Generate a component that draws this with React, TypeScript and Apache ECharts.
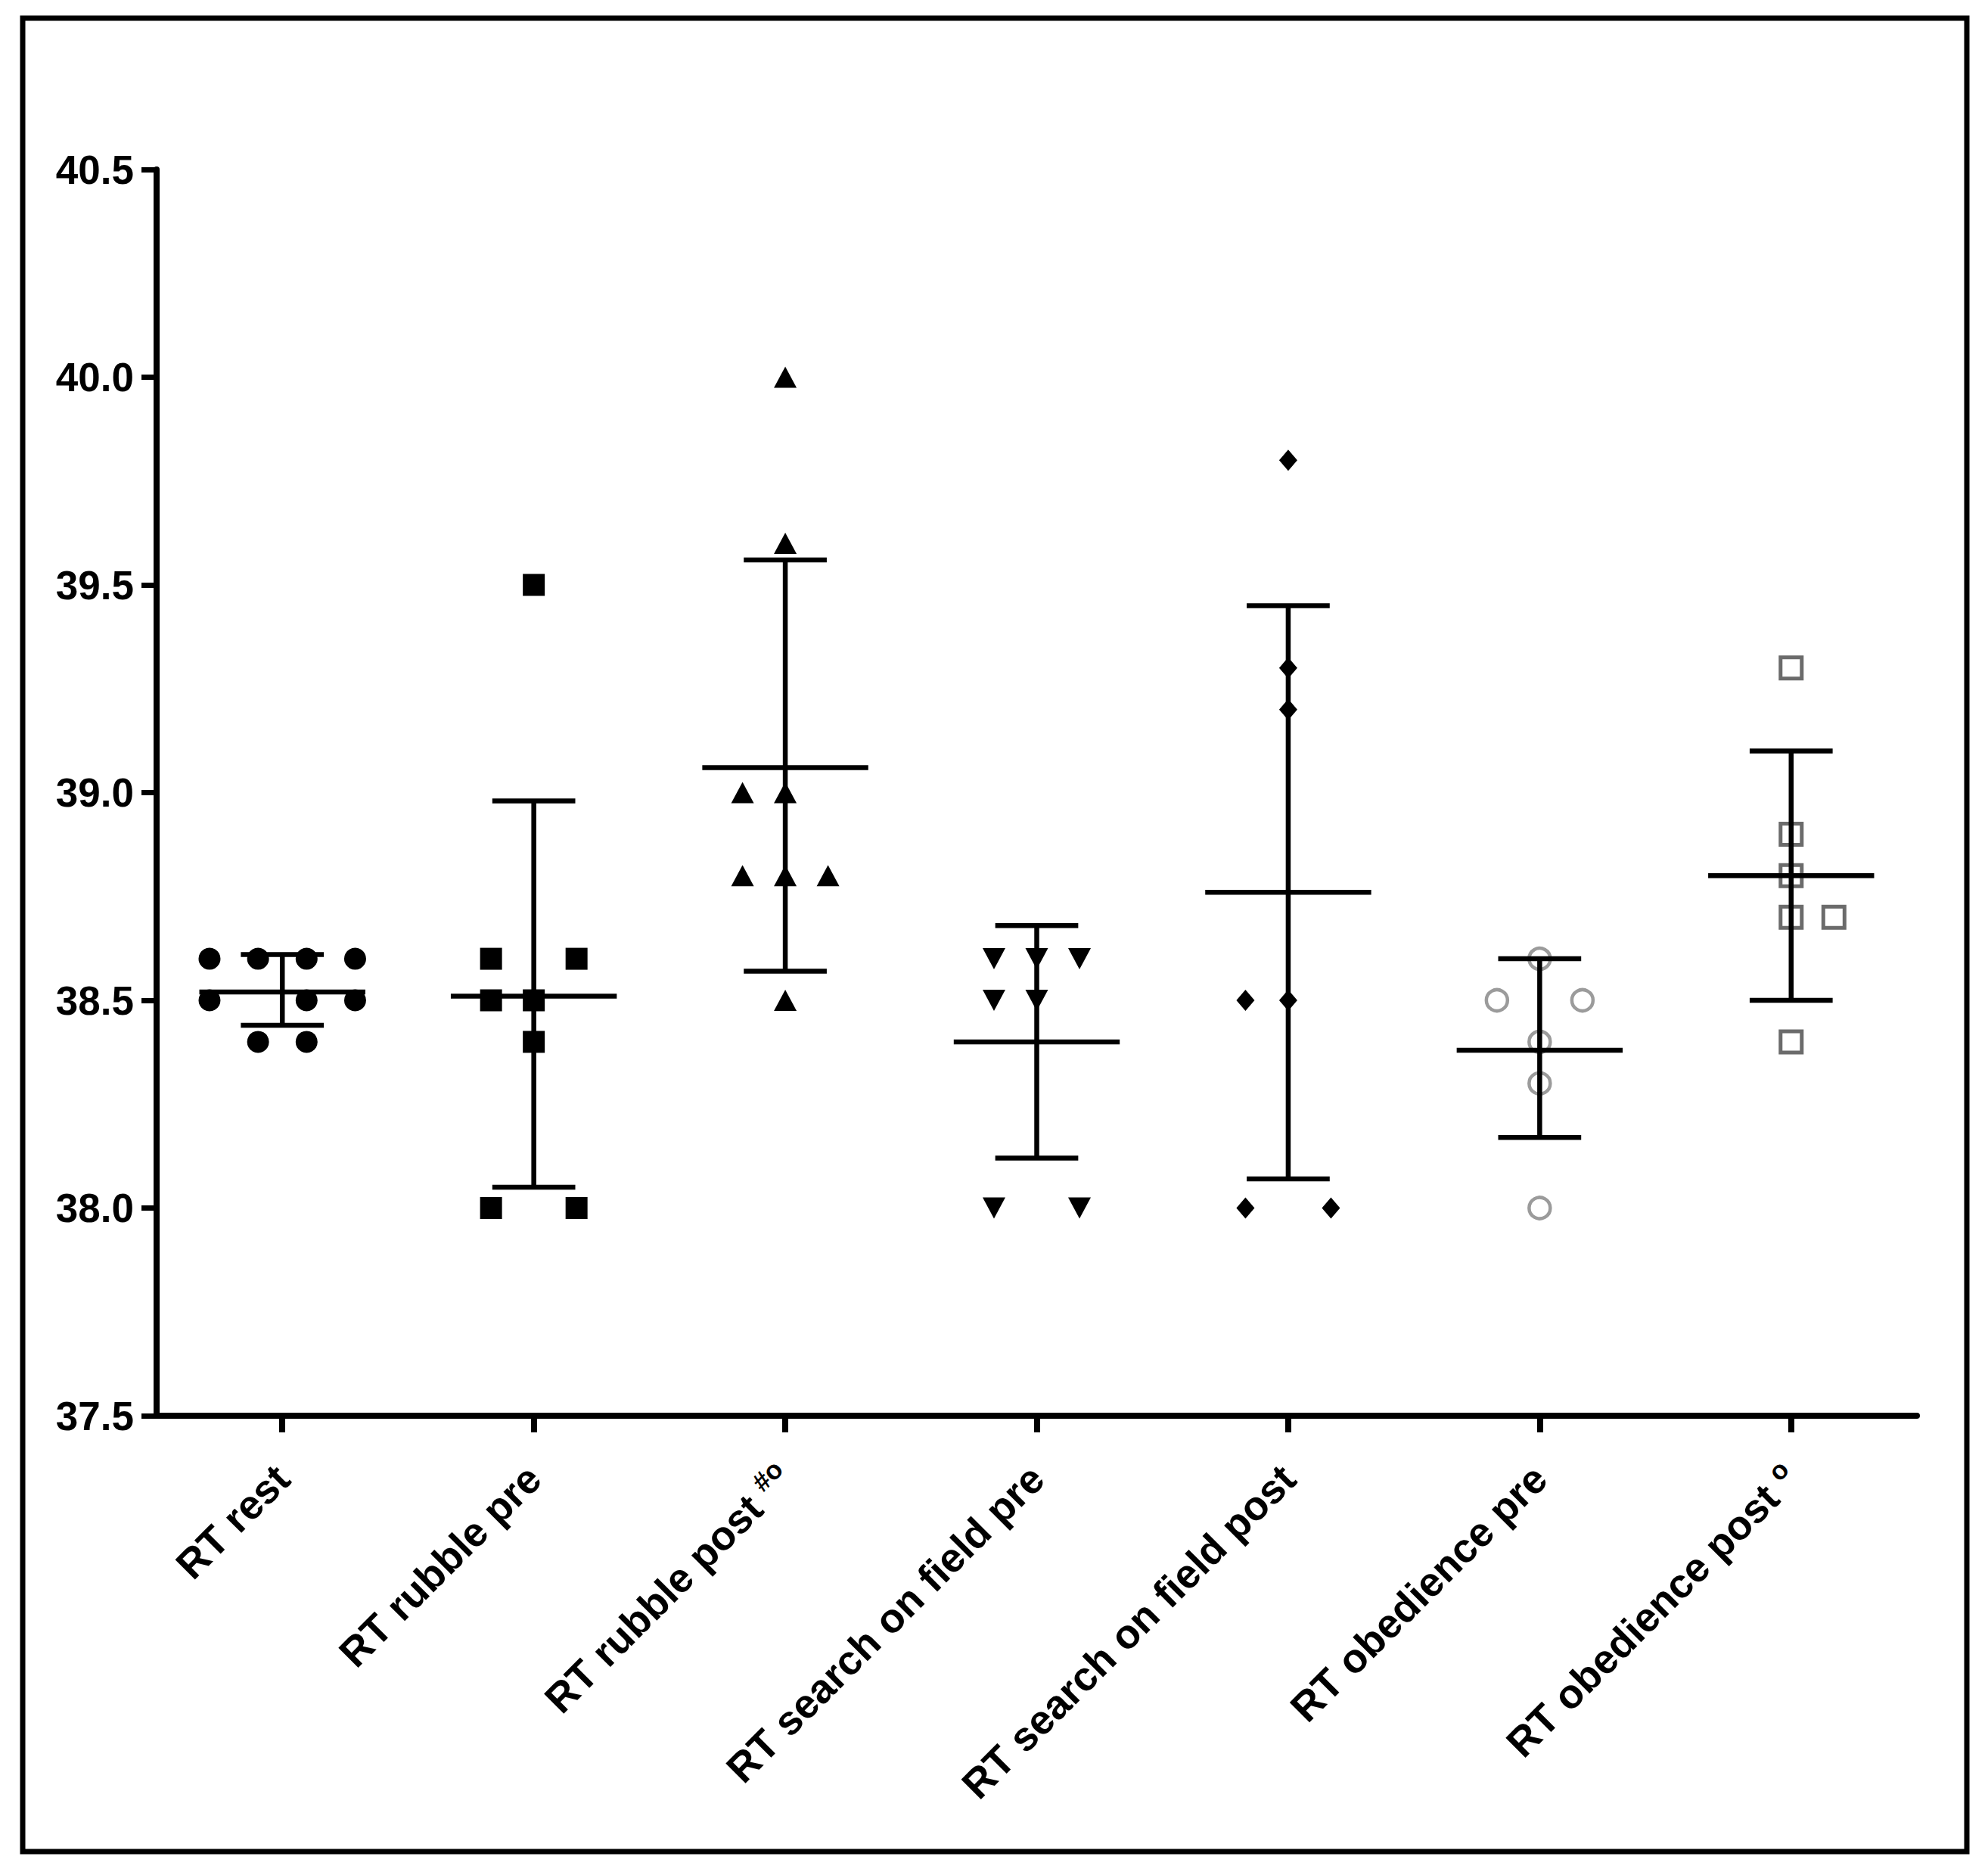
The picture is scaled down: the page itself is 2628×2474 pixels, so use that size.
import React, { useEffect, useRef } from "react";
import * as echarts from "echarts";

const CATEGORIES = [
  "RT rest",
  "RT rubble pre",
  "RT rubble post",
  "RT search on field pre",
  "RT search on field post",
  "RT obedience pre",
  "RT obedience post",
];
const SUPERSCRIPTS = ["", "", "#o", "", "", "", "o"];

const Y_TICKS_MIN = 37.5;
const Y_TICKS_MAX = 40.5;
const Y_TICK_STEP = 0.5;

// points: [value, jitter slot]
const REST = [[38.6, -1.5], [38.6, -0.5], [38.6, 0.5], [38.6, 1.5], [38.5, -1.5], [38.5, 0.5], [38.5, 1.5], [38.4, -0.5], [38.4, 0.5]];
const RUBBLE_PRE = [[39.5, 0], [38.6, -1], [38.6, 1], [38.5, -1], [38.5, 0], [38.4, 0], [38.0, -1], [38.0, 1]];
const RUBBLE_POST = [[40.0, 0], [39.6, 0], [39.0, -1], [39.0, 0], [38.8, -1], [38.8, 0], [38.8, 1], [38.5, 0]];
const SEARCH_PRE = [[38.6, -1], [38.6, 0], [38.6, 1], [38.5, -1], [38.5, 0], [38.0, -1], [38.0, 1]];
const SEARCH_POST = [[39.8, 0], [39.3, 0], [39.2, 0], [38.5, -1], [38.5, 0], [38.0, -1], [38.0, 1]];
const OBED_PRE = [[38.6, 0], [38.5, -1], [38.5, 1], [38.4, 0], [38.3, 0], [38.0, 0]];
const OBED_POST = [[39.3, 0], [38.9, 0], [38.8, 0], [38.7, 0], [38.7, 1], [38.4, 0]];

const GROUPS = [REST, RUBBLE_PRE, RUBBLE_POST, SEARCH_PRE, SEARCH_POST, OBED_PRE, OBED_POST];

// mean and SD limits
const MEANS = [38.52, 38.51, 39.06, 38.4, 38.76, 38.38, 38.8];
const LOWER = [38.44, 38.05, 38.57, 38.12, 38.07, 38.17, 38.5];
const UPPER = [38.61, 38.98, 39.56, 38.68, 39.45, 38.6, 39.1];

const FONT = "'Liberation Sans', Arial, Helvetica, sans-serif";

const SYMBOLS = [
  { symbol: "circle", size: 29, color: "#000", border: "#000", bw: 0, rotate: 0 },
  { symbol: "rect", size: 29, color: "#000", border: "#000", bw: 0, rotate: 0 },
  { symbol: "triangle", size: [30, 28], color: "#000", border: "#000", bw: 0, rotate: 0 },
  { symbol: "triangle", size: [30, 28], color: "#000", border: "#000", bw: 0, rotate: 180 },
  { symbol: "diamond", size: [24, 28], color: "#000", border: "#000", bw: 0, rotate: 0 },
  { symbol: "circle", size: 28, color: "rgba(255,255,255,0)", border: "#9b9b9b", bw: 4.5, rotate: 0 },
  { symbol: "rect", size: 28, color: "rgba(255,255,255,0)", border: "#6b6b6b", bw: 5, rotate: 0 },
];
const JITTER = [0.193, 0.17, 0.17, 0.17, 0.17, 0.17, 0.17];

export default function App() {
  const ref = useRef<HTMLDivElement>(null);
  useEffect(() => {
    if (!ref.current) return;
    const chart = echarts.init(ref.current, null, { renderer: "svg" });

    const scatterSeries = GROUPS.map((pts, gi) => {
      const s = SYMBOLS[gi];
      return {
        type: "scatter",
        name: CATEGORIES[gi],
        xAxisIndex: 1,
        yAxisIndex: 0,
        symbol: s.symbol,
        symbolSize: s.size,
        symbolRotate: s.rotate,
        itemStyle: { color: s.color, borderColor: s.border, borderWidth: s.bw, opacity: 1 },
        z: 2,
        silent: true,
        data: pts.map((p) => [gi + p[1] * JITTER[gi], p[0]]),
      };
    });

    const barData = MEANS.map((m, i) => [i, m, LOWER[i], UPPER[i]]);

    const option = {
      animation: false,
      backgroundColor: "#ffffff",
      grid: { left: 207, right: 94, top: 224, bottom: 603, containLabel: false },
      xAxis: [
        {
          type: "category",
          data: CATEGORIES,
          boundaryGap: true,
          axisLine: { show: true, onZero: false, lineStyle: { color: "#000", width: 8 } },
          axisTick: { show: true, alignWithLabel: true, length: 22, lineStyle: { color: "#000", width: 8 } },
          splitLine: { show: false },
          axisLabel: {
            rotate: 45,
            margin: 74,
            interval: 0,
            color: "#000",
            formatter: (value: string, index: number) => {
              const sup = SUPERSCRIPTS[index];
              return sup ? `{n|${value} }{s|${sup}}` : `{n|${value}}`;
            },
            rich: {
              n: { fontFamily: FONT, fontWeight: "bold", fontSize: 54, color: "#000", lineHeight: 62 },
              s: { fontFamily: FONT, fontWeight: "bold", fontSize: 35, color: "#000", verticalAlign: "top", lineHeight: 62 },
            },
          },
        },
        {
          type: "value",
          min: -0.5,
          max: 6.5,
          show: false,
          axisLine: { onZero: false },
          splitLine: { show: false },
        },
      ],
      yAxis: {
        type: "value",
        min: Y_TICKS_MIN,
        max: Y_TICKS_MAX,
        interval: Y_TICK_STEP,
        axisLine: { show: true, onZero: false, lineStyle: { color: "#000", width: 8 } },
        axisTick: { show: true, length: 20, lineStyle: { color: "#000", width: 7 } },
        splitLine: { show: false },
        axisLabel: {
          margin: 30,
          color: "#000",
          fontFamily: FONT,
          fontWeight: "bold",
          fontSize: 53,
          formatter: (v: number) => v.toFixed(1),
        },
      },
      graphic: [
        {
          type: "rect",
          shape: { x: 30, y: 24, width: 2570, height: 2423 },
          style: { fill: "none", stroke: "#000", lineWidth: 7 },
          silent: true,
          z: 10,
        },
      ],
      series: [
        ...scatterSeries,
        {
          type: "custom",
          xAxisIndex: 1,
          yAxisIndex: 0,
          z: 5,
          silent: true,
          data: barData,
          encode: { x: 0, y: [1, 2, 3] },
          renderItem: (params: any, api: any) => {
            const x = api.value(0);
            const pm = api.coord([x, api.value(1)]);
            const plo = api.coord([x, api.value(2)]);
            const phi = api.coord([x, api.value(3)]);
            const band = api.size([1, 0])[0];
            const meanHalf = 0.33 * band;
            const capHalf = 0.165 * band;
            const st = { stroke: "#000", lineWidth: 6.5 };
            return {
              type: "group",
              children: [
                { type: "line", shape: { x1: pm[0] - meanHalf, y1: pm[1], x2: pm[0] + meanHalf, y2: pm[1] }, style: st },
                { type: "line", shape: { x1: pm[0], y1: plo[1], x2: pm[0], y2: phi[1] }, style: st },
                { type: "line", shape: { x1: pm[0] - capHalf, y1: plo[1], x2: pm[0] + capHalf, y2: plo[1] }, style: st },
                { type: "line", shape: { x1: pm[0] - capHalf, y1: phi[1], x2: pm[0] + capHalf, y2: phi[1] }, style: st },
              ],
            };
          },
        },
      ],
    };

    chart.setOption(option as any);
    return () => chart.dispose();
  }, []);

  return (
    <div
      ref={ref}
      style={{ position: "absolute", left: 0, top: 0, width: 2628, height: 2474, background: "#fff" }}
    />
  );
}
